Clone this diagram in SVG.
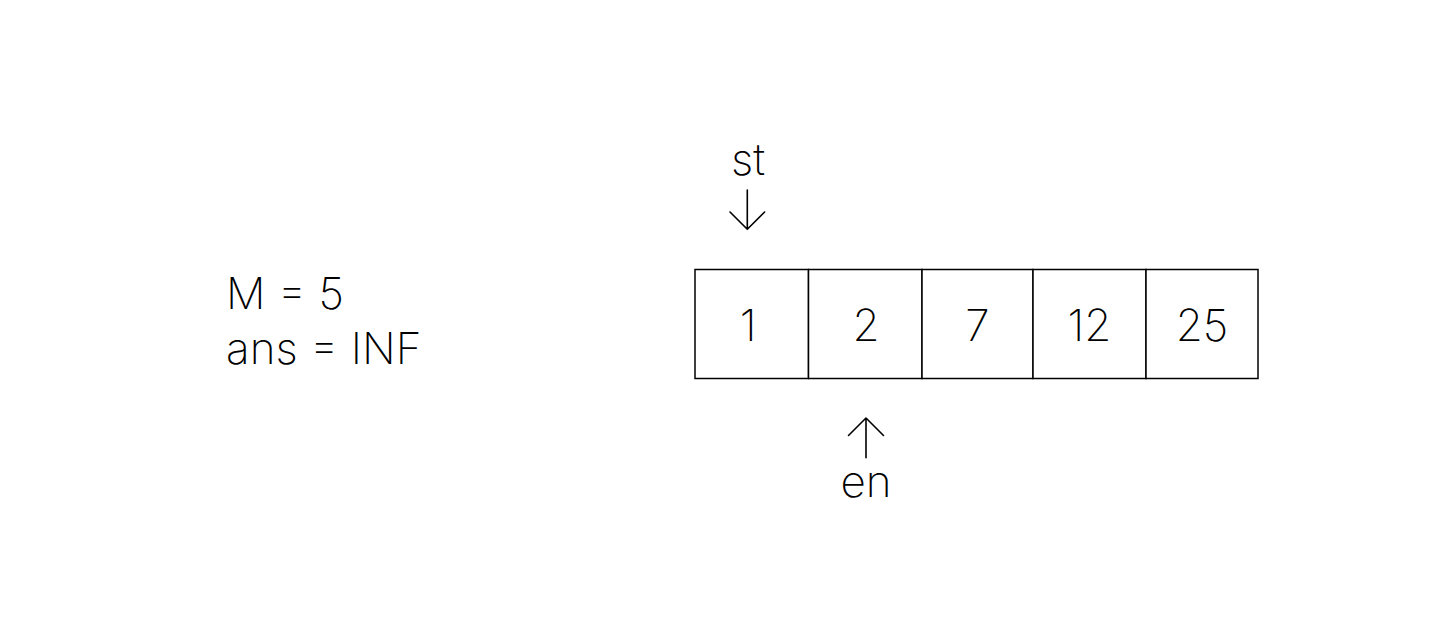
<svg xmlns="http://www.w3.org/2000/svg" width="1452" height="641" viewBox="0 0 1452 641">
<style>
.t{font-family:Inter,"Liberation Sans",sans-serif;font-weight:200;font-size:44px;fill:#000}
.c{fill:#fff;stroke:#000;stroke-width:1.5}
.a{fill:none;stroke:#000;stroke-width:1.6;stroke-linecap:round;stroke-linejoin:round}
</style>
<rect width="1452" height="641" fill="#fff"/>
<g id="vars">
<text class="t" x="226" y="309">M = 5</text>
<text class="t" x="226" y="364">ans = INF</text>
</g>
<g id="cell0"><rect class="c" x="695" y="269.5" width="113.5" height="109"/><text class="t" x="748" y="341" text-anchor="middle">1</text></g>
<g id="cell1"><rect class="c" x="808.5" y="269.5" width="113.5" height="109"/><text class="t" x="866" y="341" text-anchor="middle">2</text></g>
<g id="cell2"><rect class="c" x="922" y="269.5" width="111" height="109"/><text class="t" x="977.5" y="341" text-anchor="middle">7</text></g>
<g id="cell3"><rect class="c" x="1033" y="269.5" width="113" height="109"/><text class="t" x="1089.5" y="341" text-anchor="middle">12</text></g>
<g id="cell4"><rect class="c" x="1146" y="269.5" width="112" height="109"/><text class="t" x="1202" y="341" text-anchor="middle">25</text></g>
<g id="st"><text class="t" x="748" y="175" text-anchor="middle">st</text></g>
<g id="en"><text class="t" x="866" y="497" text-anchor="middle">en</text></g>
<g id="connectors">
<path class="a" d="M747.3 190V229.3M730 212L747.3 229.3L764.6 212"/>
<path class="a" d="M866 457.7V418M848.5 435.5L866 418L883.5 435.5"/>
</g>
</svg>
